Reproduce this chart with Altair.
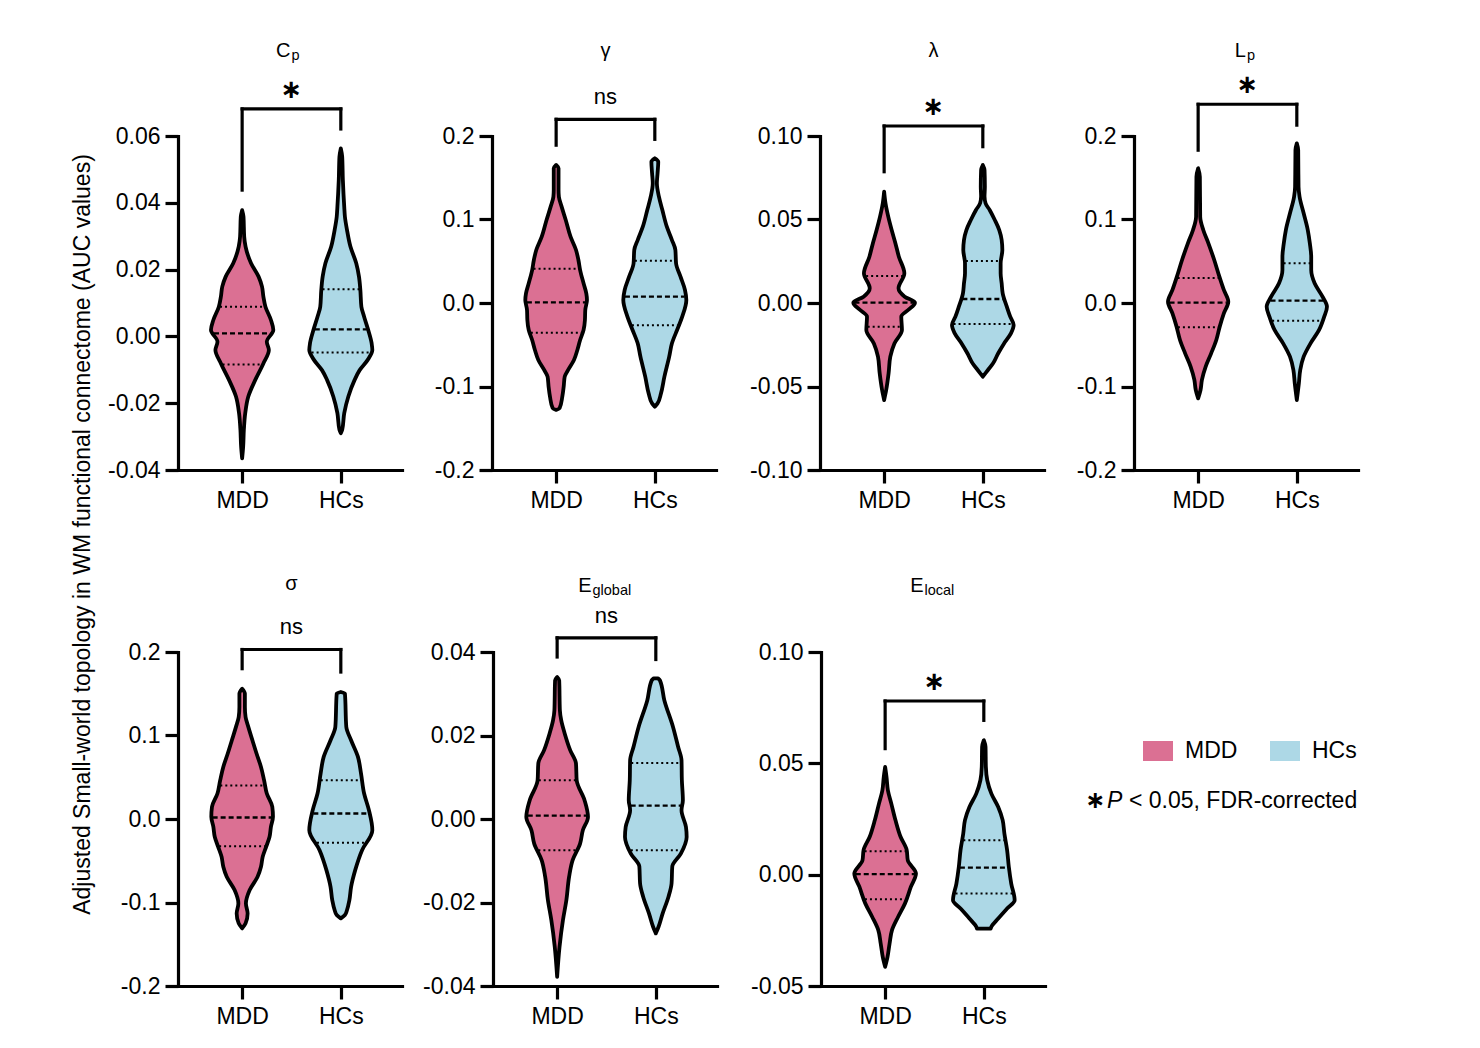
import altair as alt
import numpy as np
import pandas as pd

FONT = "Liberation Sans"
GROUPS = ["MDD", "HCs"]
GROUP_COLORS = ["#DB7093", "#ADD8E6"]

# violin outlines: y value and half-width (relative units)
cp_mdd_y = [0.0378, 0.0358, 0.0299, 0.0269, 0.0219, 0.0179, 0.0149, 0.0119, 0.0089, 0.0049, 0.0019,
            -0.0016, -0.0041, -0.0081, -0.0131, -0.0180, -0.0230, -0.0280, -0.0330, -0.0365]
cp_mdd_w = [0, 4, 6, 10, 26, 48, 58, 62, 68, 84, 91, 72, 78, 62, 38, 18, 9, 5, 3, 0]
cp_hcs_y = [0.0563, 0.0538, 0.0468, 0.0388, 0.0358, 0.0319, 0.0269, 0.0219, 0.0179, 0.0139, 0.0089,
            0.0059, 0.0019, -0.0021, -0.0041, -0.0071, -0.0101, -0.0131, -0.0180, -0.0230, -0.0280, -0.0290]
cp_hcs_w = [0, 4, 6, 10, 12, 18, 28, 45, 53, 57, 60, 68, 80, 90, 92, 78, 55, 40, 22, 10, 4, 0]

gamma_mdd_y = [0.1653, 0.1613, 0.1353, 0.1273, 0.1154, 0.0994, 0.0794, 0.0635, 0.0515, 0.0395, 0.0236,
               0.0116, 0.0036, -0.0084, -0.0204, -0.0323, -0.0443, -0.0563, -0.0683, -0.0802, -0.0882,
               -0.1002, -0.1122, -0.1261, -0.1281]
gamma_mdd_w = [0, 7, 7, 8, 16, 28, 42, 58, 65, 70, 80, 88, 90, 85, 84, 80, 70, 62, 52, 35, 25, 22, 18, 10, 0]
gamma_hcs_y = [0.1733, 0.1693, 0.1553, 0.1433, 0.1273, 0.1114, 0.0914, 0.0754, 0.0635, 0.0475, 0.0315,
               0.0156, 0.0036, -0.0164, -0.0323, -0.0483, -0.0643, -0.0882, -0.1082, -0.1202, -0.1241]
gamma_hcs_w = [0, 10, 8, 6, 12, 22, 35, 50, 60, 62, 75, 88, 92, 80, 65, 50, 42, 28, 18, 8, 0]

lam_mdd_y = [0.0667, 0.0597, 0.0517, 0.0437, 0.0357, 0.0277, 0.0178, 0.0088, 0.0038, 0.0002, -0.0042,
             -0.0082, -0.0162, -0.0242, -0.0321, -0.0421, -0.0521, -0.0581]
lam_mdd_w = [0, 4, 12, 22, 33, 43, 59, 42, 60, 90, 70, 50, 52, 30, 18, 13, 6, 0]
lam_hcs_y = [0.0826, 0.0796, 0.0697, 0.0637, 0.0597, 0.0557, 0.0497, 0.0437, 0.0377, 0.0317, 0.0238,
             0.0178, 0.0118, 0.0058, -0.0022, -0.0082, -0.0132, -0.0182, -0.0242, -0.0301, -0.0361,
             -0.0401, -0.0441]
lam_hcs_w = [0, 5, 6, 5, 8, 20, 35, 48, 55, 57, 52, 52, 55, 58, 70, 80, 90, 82, 62, 45, 30, 15, 0]

lp_mdd_y = [0.1613, 0.1513, 0.1034, 0.0874, 0.0715, 0.0515, 0.0315, 0.0156, 0.0016, -0.0124, -0.0283,
            -0.0443, -0.0603, -0.0762, -0.0922, -0.1042, -0.1142]
lp_mdd_w = [0, 5, 6, 15, 30, 47, 62, 75, 88, 75, 63, 53, 38, 22, 11, 7, 0]
lp_hcs_y = [0.1912, 0.1832, 0.1393, 0.1273, 0.1074, 0.0874, 0.0715, 0.0555, 0.0395, 0.0236, 0.0076,
            -0.0044, -0.0164, -0.0323, -0.0483, -0.0643, -0.0802, -0.0962, -0.1162]
lp_hcs_w = [0, 4, 5, 8, 20, 32, 38, 42, 42, 52, 75, 88, 80, 65, 40, 20, 10, 6, 0]

sigma_mdd_y = [0.1561, 0.1502, 0.1342, 0.1222, 0.1103, 0.0943, 0.0784, 0.0624, 0.0465, 0.0305, 0.0146,
               0.0026, -0.0094, -0.0213, -0.0333, -0.0453, -0.0572, -0.0692, -0.0851, -0.1011, -0.1131,
               -0.1250, -0.1310]
sigma_mdd_w = [0, 8, 8, 10, 18, 30, 42, 55, 64, 72, 88, 90, 84, 80, 70, 60, 55, 45, 22, 11, 16, 10, 0]
sigma_hcs_y = [0.1521, 0.1502, 0.1103, 0.0943, 0.0744, 0.0544, 0.0305, 0.0106, -0.0134, -0.0373, -0.0612,
               -0.0812, -0.0971, -0.1091, -0.1150, -0.1190]
sigma_hcs_w = [0, 12, 16, 30, 50, 59, 68, 82, 92, 62, 42, 30, 25, 18, 12, 0]

eglob_mdd_y = [0.0340, 0.0332, 0.0260, 0.0236, 0.0205, 0.0165, 0.0133, 0.0093, 0.0045, 0.0005, -0.0027,
               -0.0059, -0.0099, -0.0138, -0.0194, -0.0242, -0.0306, -0.0378]
eglob_mdd_w = [0, 6, 8, 12, 22, 38, 55, 57, 80, 90, 75, 67, 45, 35, 27, 17, 7, 0]
eglob_hcs_y = [0.0337, 0.0332, 0.0284, 0.0221, 0.0173, 0.0141, 0.0093, 0.0045, 0.0021, -0.0019, -0.0043,
               -0.0083, -0.0114, -0.0154, -0.0186, -0.0226, -0.0258, -0.0274]
eglob_hcs_w = [6, 12, 25, 50, 65, 75, 76, 79, 75, 88, 90, 73, 48, 46, 37, 20, 8, 0]

eloc_mdd_y = [0.0484, 0.0439, 0.0379, 0.0319, 0.0245, 0.0170, 0.0110, 0.0065, 0.0005, -0.0055, -0.0129,
              -0.0189, -0.0249, -0.0309, -0.0369, -0.0414]
eloc_mdd_w = [0, 4, 8, 18, 30, 45, 63, 66, 90, 75, 58, 38, 20, 13, 7, 0]
eloc_hcs_y = [0.0604, 0.0574, 0.0484, 0.0424, 0.0364, 0.0304, 0.0245, 0.0185, 0.0110, 0.0035, -0.0040,
              -0.0115, -0.0152, -0.0197, -0.0234, -0.0242]
eloc_hcs_w = [0, 5, 6, 10, 22, 42, 55, 60, 68, 73, 80, 90, 68, 42, 22, 20]

# quartiles per group: Q1, median, Q3
cp_q = [[-0.0084, 0.0009, 0.0089], [-0.0048, 0.0021, 0.0141]]
gamma_q = [[-0.0355, 0.0008, 0.0411], [-0.0267, 0.0076, 0.0507]]
lam_q = [[-0.0142, 0.0002, 0.0162], [-0.0126, 0.0024, 0.0251]]
lp_q = [[-0.0291, 0.0004, 0.0299], [-0.0212, 0.0028, 0.0475]]
sigma_q = [[-0.0325, 0.0018, 0.0401], [-0.0285, 0.0066, 0.0465]]
eglob_q = [[-0.0075, 0.0008, 0.0093], [-0.0075, 0.0032, 0.0134]]
eloc_q = [[-0.0110, 0.0002, 0.0105], [-0.0085, 0.0032, 0.0155]]

# panel descriptions
title_main = ["C", "\u03b3", "\u03bb", "L", "\u03c3", "E", "E"]
title_sub = ["p", "", "", "p", "", "global", "local"]
y_lo = [-0.04, -0.2, -0.10, -0.2, -0.2, -0.04, -0.05]
y_hi = [0.06, 0.2, 0.10, 0.2, 0.2, 0.04, 0.10]
y_step = [0.02, 0.1, 0.05, 0.1, 0.1, 0.02, 0.05]
y_fmt = [".2f", ".1f", ".2f", ".1f", ".1f", ".2f", ".2f"]
sig_text = ["\u2217", "ns", "\u2217", "\u2217", "ns", "ns", "\u2217"]
bracket_top = [0.0681, 0.220, 0.106, 0.238, 0.203, 0.0434, 0.078]
bracket_mdd = [0.0438, 0.189, 0.0786, 0.183, 0.180, 0.0388, 0.0566]
bracket_hcs = [0.0621, 0.196, 0.0936, 0.213, 0.176, 0.0382, 0.0693]

violins = [
    [(cp_mdd_y, cp_mdd_w), (cp_hcs_y, cp_hcs_w)],
    [(gamma_mdd_y, gamma_mdd_w), (gamma_hcs_y, gamma_hcs_w)],
    [(lam_mdd_y, lam_mdd_w), (lam_hcs_y, lam_hcs_w)],
    [(lp_mdd_y, lp_mdd_w), (lp_hcs_y, lp_hcs_w)],
    [(sigma_mdd_y, sigma_mdd_w), (sigma_hcs_y, sigma_hcs_w)],
    [(eglob_mdd_y, eglob_mdd_w), (eglob_hcs_y, eglob_hcs_w)],
    [(eloc_mdd_y, eloc_mdd_w), (eloc_hcs_y, eloc_hcs_w)],
]
quartiles = [cp_q, gamma_q, lam_q, lp_q, sigma_q, eglob_q, eloc_q]

# layout / style
W_SCALE = 1 / 288
PANEL_W, PANEL_H = 224, 334
LABEL_SIZE = 23
title_dx = [-1, 0, 0, -1.5, 0, -15, -11]
title_y = [-79, -79, -79, -79, -62, -60, -60]
col_extent = [72, 70, 84, 70]

color_scale = alt.Scale(domain=GROUPS, range=GROUP_COLORS)


def make_panel(i, extent):
    lo, hi, step = y_lo[i], y_hi[i], y_step[i]
    ticks = [round(v, 4) for v in np.arange(lo, hi + step / 2, step)]
    y_scale = alt.Scale(domain=[lo, hi], nice=False, zero=False)
    x_scale = alt.Scale(domain=[-0.65, 1.62], nice=False, zero=False)
    y_axis = alt.Axis(values=ticks, title=None, minExtent=extent,
                      labelExpr=f"replace(format(datum.value, '{y_fmt[i]}'), '\u2212', '-')")
    x_axis = alt.Axis(values=[0, 1], title=None, labelExpr="datum.value < 0.5 ? 'MDD' : 'HCs'")

    rows, qrows = [], []
    for pos, (g, (ys, ws)) in enumerate(zip(GROUPS, violins[i])):
        for v, w in zip(ys, ws):
            rows.append({"group": g, "value": v, "left": pos - w * W_SCALE, "right": pos + w * W_SCALE})
        order = np.argsort(ys)
        ys_s, ws_s = np.array(ys)[order], np.array(ws)[order]
        for kind, q in zip(["q1", "median", "q3"], quartiles[i][pos]):
            hw = np.interp(q, ys_s, ws_s) * W_SCALE - 0.012
            qrows.append({"group": g, "kind": kind, "value": q, "left": pos - hw, "right": pos + hw})
    vdf = pd.DataFrame(rows).sort_values(["group", "value"])
    qdf = pd.DataFrame(qrows)
    bdf = pd.DataFrame({
        "x": [0, 1, 0], "x2": [0, 1, 1],
        "y": [bracket_mdd[i], bracket_hcs[i], bracket_top[i]],
        "y2": [bracket_top[i], bracket_top[i], bracket_top[i]],
    })
    tdf = pd.DataFrame({"x": [0.5], "y": [bracket_top[i]], "sig": [sig_text[i]],
                        "main": [title_main[i]], "sub": [title_sub[i]]})

    X = lambda f: alt.X(f, scale=x_scale, axis=x_axis)
    Y = lambda f: alt.Y(f, scale=y_scale, axis=y_axis)

    violin = alt.Chart(vdf).mark_area(
        orient="horizontal", interpolate="monotone", stroke="black", strokeWidth=3.8,
        strokeJoin="round", fillOpacity=1,
    ).encode(
        y=Y("value:Q"), x=X("left:Q"), x2="right:Q",
        color=alt.Color("group:N", scale=color_scale, legend=None),
        detail="group:N",
    )
    quart = alt.Chart(qdf).transform_filter("datum.kind != 'median'").mark_rule(
        color="black", strokeWidth=2, strokeDash=[2, 3]
    ).encode(y=Y("value:Q"), x=X("left:Q"), x2="right:Q")
    median = alt.Chart(qdf).transform_filter("datum.kind == 'median'").mark_rule(
        color="black", strokeWidth=2.3, strokeDash=[5, 3]
    ).encode(y=Y("value:Q"), x=X("left:Q"), x2="right:Q")
    bracket = alt.Chart(bdf).mark_rule(color="black", strokeWidth=3.2, strokeCap="square").encode(
        x=X("x:Q"), x2="x2:Q", y=Y("y:Q"), y2="y2:Q"
    )
    is_star = sig_text[i] != "ns"
    sig = alt.Chart(tdf).mark_text(
        font=FONT if not is_star else "DejaVu Sans", fontSize=26 if is_star else 22,
        fontWeight="bold" if is_star else "normal", color="black", baseline="middle",
        dy=-19 if is_star else -22,
    ).encode(x=X("x:Q"), y=Y("y:Q"), text="sig:N")

    has_sub = title_sub[i] != ""
    main = alt.Chart(tdf).mark_text(
        font=FONT, fontSize=20, color="black", baseline="alphabetic",
        align="right" if has_sub else "center", dx=title_dx[i],
    ).encode(x=X("x:Q"), y=alt.value(title_y[i]), text="main:N")
    layers = [violin, quart, median, bracket, sig, main]
    if has_sub:
        sub = alt.Chart(tdf).mark_text(
            font=FONT, fontSize=14.5, color="black", baseline="alphabetic", align="left",
            dx=title_dx[i] + 1,
        ).encode(x=X("x:Q"), y=alt.value(title_y[i] + 3), text="sub:N")
        layers.append(sub)
    return alt.layer(*layers).properties(width=PANEL_W, height=PANEL_H)


# legend panel (bottom right)
legend_df = pd.DataFrame({"group": GROUPS})
swatch_x = [78, 205]
legend_layers = []
for g, sx in zip(GROUPS, swatch_x):
    one = alt.Chart(legend_df).transform_filter(alt.datum.group == g)
    legend_layers.append(one.mark_rect().encode(
        x=alt.value(sx), x2=alt.value(sx + 30), y=alt.value(89), y2=alt.value(109),
        color=alt.Color("group:N", scale=color_scale, legend=None)))
    legend_layers.append(one.mark_text(font=FONT, fontSize=23, color="black", align="left",
                                       baseline="middle").encode(
        x=alt.value(sx + 42), y=alt.value(99), text="group:N"))
note_df = pd.DataFrame({"star": ["\u2217"], "p": ["P"], "rest": ["< 0.05, FDR-corrected"]})
note = alt.Chart(note_df)
legend_layers += [
    note.mark_text(font="DejaVu Sans", fontSize=24, fontWeight="bold", color="black",
                   baseline="middle").encode(x=alt.value(30), y=alt.value(149), text="star:N"),
    note.mark_text(font=FONT, fontSize=23, fontStyle="italic", color="black", align="left",
                   baseline="middle").encode(x=alt.value(42), y=alt.value(149), text="p:N"),
    note.mark_text(font=FONT, fontSize=23, color="black", align="left",
                   baseline="middle").encode(x=alt.value(64), y=alt.value(149), text="rest:N"),
]
legend_panel = alt.layer(*legend_layers).properties(width=290, height=PANEL_H)

top_row = alt.hconcat(*[make_panel(i, col_extent[i]) for i in range(4)], spacing=20)
bottom_row = alt.hconcat(*[make_panel(4 + i, col_extent[i]) for i in range(3)], legend_panel, spacing=20)

chart = alt.vconcat(top_row, bottom_row, spacing=62).properties(
    title=alt.TitleParams(
        "Adjusted Small-world topology in WM functional connectome (AUC values)",
        orient="left", anchor="middle", font=FONT, fontSize=23, fontWeight="normal",
        color="black", offset=11,
    ),
    padding={"left": 63, "top": 33, "right": 10, "bottom": 10},
).configure_view(stroke=None).configure_axis(
    domainColor="black", domainWidth=3.2, domainCap="square", tickColor="black", tickWidth=3.2,
    tickSize=13, labelFont=FONT, labelFontSize=LABEL_SIZE, labelColor="black", grid=False,
).configure_axisY(labelPadding=5).configure_axisX(labelPadding=6)

chart.save("out.html", embed_options={"renderer": "svg", "actions": False})
